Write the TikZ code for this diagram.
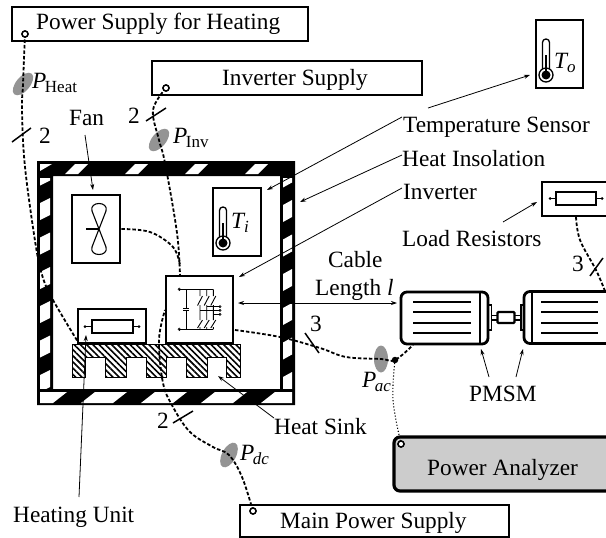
\documentclass[tikz,border=0pt]{standalone}
\usepackage{fontspec}
\setmainfont{Liberation Serif}
\usetikzlibrary{arrows.meta,shapes.geometric,patterns.meta}

\newcommand{\symb}[2]{\textit{#1}\hspace{-1.5pt}\raisebox{-4pt}{\fontsize{17}{17}\selectfont #2}}

\begin{document}
\begin{tikzpicture}[
    x=1pt, y=-1pt,
    txt/.style={font=\fontsize{23.3}{26}\selectfont, inner sep=0pt, anchor=base west},
    box/.style={draw, fill=white, line width=1.9pt, inner sep=0pt, minimum width=#1},
    thickbox/.style={box=#1, line width=2.8pt},
    motor/.style={thickbox=#1, rounded corners=6pt, minimum height=52pt},
    term/.style={circle, draw, fill=white, line width=1.4pt, inner sep=0pt, minimum size=6pt},
    probe/.style={ellipse, fill=black!42, inner sep=0pt, minimum width=27pt, minimum height=14pt},
    wire/.style={line width=1.8pt, dash pattern=on 3.5pt off 2pt},
    slash/.style={line width=1.5pt},
    pointer/.style={line width=0.8pt, -{Stealth[length=6pt,width=4pt]}},
    switchgear/.style={line width=0.9pt},
    thermo/.pic={
        \draw[line width=1.3pt, rounded corners=3.4pt] (-3.5,-6) -- (-3.5,-36) -- (3.5,-36) -- (3.5,-6);
        \draw[line width=1.3pt] (0,0) circle [radius=7pt];
        \fill (0,0) circle [radius=4.5pt];
        \fill (-1.4,0) rectangle (1.4,-20);
    }
]
    \useasboundingbox (0,0) rectangle (606,538);
    \clip (0,0) rectangle (606,538);

    % insulated housing
    \fill[even odd rule] (37,161) rectangle (295,405) (53,176) rectangle (280,389);
    \begin{scope}
        \clip (40,178) rectangle (292,388);
        \foreach \y in {163.5,198,232.5,267,301,335.5,370} {
            \fill[white] (40,\y+5) -- (50,\y) -- (50,\y+17) -- (40,\y+22) -- cycle;
            \fill[white] (283,\y+7) -- (292,\y+2) -- (292,\y+19) -- (283,\y+24) -- cycle;
        }
    \end{scope}
    \fill[white] (40,171) -- (40,164) -- (52,164) -- cycle;
    \foreach \x in {65,125,185,245}
        \fill[white] (\x,174) -- (\x+13,174) -- (\x+23,164) -- (\x+10,164) -- cycle;
    \begin{scope}
        \clip (40,392) rectangle (292,403);
        \foreach \x in {21,81,141,201,261}
            \fill[white] (\x,403) -- (\x+32,403) -- (\x+46,392) -- (\x+14,392) -- cycle;
    \end{scope}

    % heat sink
    \draw[line width=0.5pt, pattern={Lines[angle=-45,distance=4.4pt,line width=1.6pt]}]
        (72,344) -- (240,344) -- (240,377) -- (226,377) -- (226,357) -- (207,357) -- (207,377)
        -- (186,377) -- (186,357) -- (166,357) -- (166,377) -- (146,377) -- (146,357)
        -- (126,357) -- (126,377) -- (105,377) -- (105,357) -- (85,357) -- (85,377) -- (72,377) -- cycle;

    % boxes
    \node[box=296pt, minimum height=34pt] (heatsupply) at (160,24) {};
    \node[box=270pt, minimum height=34pt] (invsupply) at (287,78) {};
    \node[box=269pt, minimum height=32pt] (mainsupply) at (374.5,521) {};
    \node[thickbox=48pt, minimum height=68pt] (fan) at (96,229) {};
    \node[thickbox=48pt, minimum height=68pt] (sensori) at (237,222) {};
    \node[thickbox=47pt, minimum height=68pt] (sensoro) at (559.5,54) {};
    \node[thickbox=67pt, minimum height=67pt] (inverter) at (199.5,309.5) {};
    \node[thickbox=68pt, minimum height=34pt] (heater) at (112,326) {};
    \node[thickbox=66pt, minimum height=34pt] (loadres) at (575,199) {};
    \node[thickbox=230pt, minimum height=54pt, fill=black!20, rounded corners=6pt, line width=3.2pt] (analyzer) at (509,464) {};

    % resistors
    \node[draw, line width=1.2pt, inner sep=0pt, minimum width=41pt, minimum height=13pt] (heatres) at (112.5,326.5) {};
    \coordinate (heatresa) at (85,326.5);
    \coordinate (heatresb) at (139,326.5);
    \draw[line width=1pt] (heatresa) -- (heatres) -- (heatresb);
    \fill (heatresa) circle [radius=1.5pt] (heatresb) circle [radius=1.5pt];
    \node[draw, line width=1.2pt, inner sep=0pt, minimum width=40pt, minimum height=13pt] (loadcoil) at (576,198.5) {};
    \coordinate (loadresa) at (550,198.5);
    \coordinate (loadresb) at (602,198.5);
    \draw[line width=1pt] (loadresa) -- (loadcoil) -- (loadresb);
    \fill (loadresa) circle [radius=1.5pt] (loadresb) circle [radius=1.5pt];

    % fan blades
    \coordinate (fanhub) at (99,229);
    \draw[line width=1.1pt] (fanhub) -- (92,211) .. controls (89,201) and (109,201) .. (106,211) -- (fanhub)
        -- (92,247) .. controls (89,257) and (109,257) .. (106,247) -- cycle;
    \draw[line width=2.2pt] (86,229) -- (fanhub);

    % thermometers
    \pic at (223,243) {thermo};
    \pic at (546,75) {thermo};

    % inverter schematic
    \draw[switchgear] (179.3,289.3) -- (213.3,289.3) (179.3,329.3) -- (213.3,329.3);
    \draw[switchgear] (186,289.3) -- (186,308.3) (186,310.6) -- (186,329.3);
    \draw[line width=1.2pt] (183,308.3) -- (189,308.3) (183,310.6) -- (189,310.6);
    \foreach \x in {200,206.7,213.3} {
        \draw[switchgear] (\x,289.3) -- (\x,296) (\x+2.5,296) -- (\x-2.5,305.5) (\x,305) -- (\x,320)
            (\x+2.5,320) -- (\x-2.5,328) (\x,327) -- (\x,329.3);
    }
    \draw[switchgear] (206.7,306.7) -- (220,306.7) (200,310.3) -- (220,310.3) (213.3,314.3) -- (220,314.3);
    \foreach \y in {306.7,310.3,314.3}
        \draw[line width=0.6pt] (220,\y) circle [radius=1.1pt];
    \draw[line width=0.6pt] (179.3,289.3) circle [radius=1.3pt] (179.3,329.3) circle [radius=1.3pt];

    % machines
    \node[motor=87pt] (motora) at (444.5,318) {};
    \node[motor=90pt] (motorb) at (569,317.5) {};
    \draw[line width=1.3pt] (480,292) -- (480,344) (532,291) -- (532,343);
    \foreach \y in {302,312,323,333} {
        \draw[line width=1.2pt] (413,\y) -- (471,\y);
        \draw[line width=1.2pt] (541,\y) -- (598,\y);
    }
    \draw[line width=1.2pt] (488,305) rectangle (491.5,330) (521,305) rectangle (524.5,330);
    \draw[line width=1.2pt] (491.5,315.5) -- (497,315.5) (491.5,320) -- (497,320) (515,315.5) -- (521,315.5) (515,320) -- (521,320);
    \node[draw, line width=2.2pt, rounded corners=1pt, inner sep=0pt, minimum width=17pt, minimum height=11pt] (coupling) at (506,317.5) {};

    % meters
    \node[probe, rotate=50] (pheat) at (23,84) {};
    \node[probe, rotate=50] (pinv) at (159,140) {};
    \node[probe, rotate=62] (pdc) at (229,455) {};
    \node[probe, rotate=90] (pac) at (381,359) {};

    % terminals
    \node[term] (termheat) at (25,34) {};
    \node[term] (terminv) at (166,88) {};
    \node[term] (termmain) at (253,511) {};
    \node[term] (termpa) at (401,444) {};
    \node[circle, fill, inner sep=0pt, minimum size=6.5pt] (acdot) at (395,360) {};

    % wiring
    \coordinate (heaterin) at (78,342);
    \coordinate (invin) at (180,276);
    \coordinate (fanjoin) at (180,265);
    \coordinate (invdc) at (165,310);
    \coordinate (invac) at (235,330);
    \coordinate (motorain) at (413,345);
    \coordinate (motorbin) at (605,291);
    \coordinate (loadout) at (576,217);
    \draw[wire] plot[smooth, tension=0.6] coordinates {(termheat) (pheat.center) (22,110) (25,167) (36,247) (43,278) (53,300) (heaterin)};
    \draw[wire] plot[smooth, tension=0.6] coordinates {(terminv) (153,110) (pinv.center) (165,163) (177,233) (invin)};
    \draw[wire] plot[smooth, tension=0.6] coordinates {(fan.east) (150,232) (173,247) (fanjoin)};
    \draw[wire] plot[smooth, tension=0.6] coordinates {(termmain) (242,477) (pdc.center) (213,447) (190,432) (173,407) (163,383) (159,340) (invdc)};
    \draw[wire] plot[smooth, tension=0.6] coordinates {(invac) (280,337) (320,348) (346,357) (pac.center) (acdot) (motorain)};
    \draw[wire] plot[smooth, tension=0.6] coordinates {(loadout) (580,240) (596,270) (motorbin)};
    \draw[line width=1.1pt, dotted] plot[smooth, tension=0.6] coordinates {(acdot) (393,400) (termpa)};
    \node[term] at (termheat) {};
    \node[term] at (terminv) {};
    \node[term] at (termmain) {};
    \node[term] at (termpa) {};

    % line count marks
    \draw[slash] (12,142) -- (31,128);
    \draw[slash] (146,121) -- (166,108);
    \draw[slash] (173,423) -- (193,411);
    \draw[slash] (305,333) -- (319,353);
    \draw[slash] (590,276) -- (603,258);

    % texts
    \node[txt] (lblheat) at (36,30) {Power Supply for Heating};
    \node[txt] (lblinv) at (222,85) {Inverter Supply};
    \node[txt] (lblmain) at (280,528) {Main Power Supply};
    \node[txt] (lblpa) at (427,475) {Power Analyzer};
    \node[txt] (lbltemp) at (403,132) {Temperature Sensor};
    \node[txt] (lblinsul) at (402,166) {Heat Insolation};
    \node[txt] (lblinverter) at (403,199) {Inverter};
    \node[txt] (lblload) at (402,246) {Load Resistors};
    \node[txt] (lblcable) at (328,267) {Cable};
    \node[txt] (lbllength) at (315,295) {Length \textit{l}};
    \node[txt] (lblpmsm) at (469,401) {PMSM};
    \node[txt] (lblsink) at (274,434) {Heat Sink};
    \node[txt] (lblunit) at (13,522) {Heating Unit};
    \node[txt] (lblfan) at (69,125) {Fan};
    \node[txt] (numheat) at (39,143) {2};
    \node[txt] (numinv) at (128,123) {2};
    \node[txt] (nummain) at (157,428) {2};
    \node[txt] (numac) at (310,331) {3};
    \node[txt] (numload) at (572,271) {3};
    \node[txt] (symheat) at (32,88) {\symb{P}{Heat}};
    \node[txt] (syminv) at (173,143) {\symb{P}{Inv}};
    \node[txt] (symdc) at (240,460) {\symb{P}{\textit{dc}}};
    \node[txt] (symac) at (362,387) {\symb{P}{\textit{ac}}};
    \node[txt] (symti) at (231,228) {\symb{T}{\textit{i}}};
    \node[txt] (symto) at (554,68) {\symb{T}{\textit{o}}};

    % pointers
    \coordinate (srctemp) at (402,117);
    \coordinate (tipti) at (267,190);
    \coordinate (srcto) at (428,108);
    \coordinate (tipto) at (530,75);
    \coordinate (srcinsul) at (402,155);
    \coordinate (tipinsul) at (300,202);
    \coordinate (srcinverter) at (402,188);
    \coordinate (tipinverter) at (239,277);
    \coordinate (srcload) at (503,222);
    \coordinate (tipload) at (537,202);
    \coordinate (srcfan) at (85,135);
    \coordinate (tipfan) at (93,190);
    \coordinate (srcsink) at (274,418);
    \coordinate (tipsink) at (218,376);
    \coordinate (srcunit) at (79,497);
    \coordinate (tipunit) at (86,335);
    \coordinate (srcpmsma) at (489,377);
    \coordinate (tippmsma) at (481,349);
    \coordinate (srcpmsmb) at (516,377);
    \coordinate (tippmsmb) at (523,349);
    \coordinate (cablea) at (238,303);
    \coordinate (cableb) at (397,303);
    \draw[pointer] (srctemp) -- (tipti);
    \draw[pointer] (srcto) -- (tipto);
    \draw[pointer] (srcinsul) -- (tipinsul);
    \draw[pointer] (srcinverter) -- (tipinverter);
    \draw[pointer] (srcload) -- (tipload);
    \draw[pointer] (srcfan) -- (tipfan);
    \draw[pointer] (srcsink) -- (tipsink);
    \draw[pointer] (srcunit) -- (tipunit);
    \draw[pointer] (srcpmsma) -- (tippmsma);
    \draw[pointer] (srcpmsmb) -- (tippmsmb);
    \draw[pointer, {Stealth[length=6pt,width=4pt]}-{Stealth[length=6pt,width=4pt]}] (cablea) -- (cableb);
\end{tikzpicture}
\end{document}
